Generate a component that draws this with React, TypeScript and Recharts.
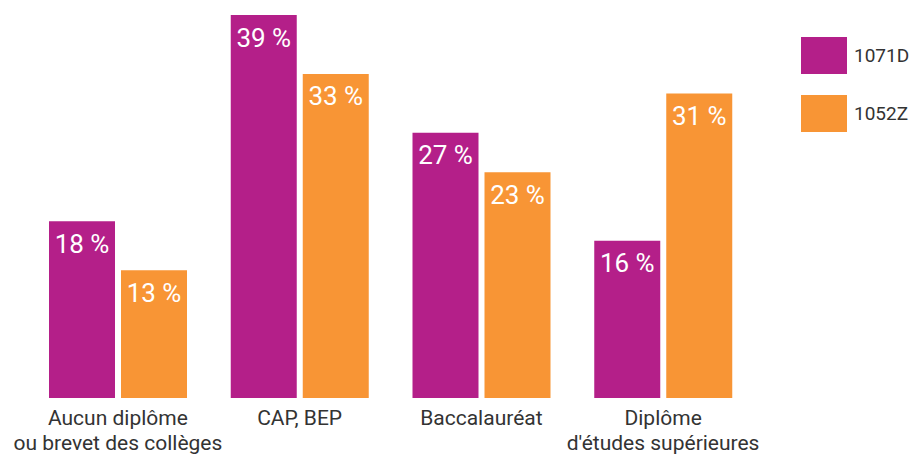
import { BarChart, Bar, XAxis, YAxis, LabelList, Legend } from "recharts";

const categories = [
  "Aucun diplôme\nou brevet des collèges",
  "CAP, BEP",
  "Baccalauréat",
  "Diplôme\nd'études supérieures",
];
const seriesNames = ["1071D", "1052Z"];
const series1071D = [18, 39, 27, 16];
const series1052Z = [13, 33, 23, 31];

const PURPLE = "#B41F89";
const ORANGE = "#F89535";

const data = categories.map((category, i) => ({
  category,
  d1071: series1071D[i],
  z1052: series1052Z[i],
}));

const BarValue = (props: any) => {
  const { x, y, width, value } = props;
  return (
    <text
      x={x + width / 2}
      y={y + 31.5}
      fill="#fff"
      fontSize={26}
      fontFamily="Roboto"
      textAnchor="middle"
    >
      {value} %
    </text>
  );
};

const CategoryTick = (props: any) => {
  const { x, y, payload } = props;
  const lines = String(payload.value).split("\n");
  return (
    <text
      x={x}
      y={y}
      fill="#333"
      fontSize={21}
      fontFamily="Roboto"
      textAnchor="middle"
    >
      {lines.map((line, i) => (
        <tspan key={i} x={x} dy={i === 0 ? 27 : 25}>
          {line}
        </tspan>
      ))}
    </text>
  );
};

const LegendBox = (props: any) => {
  // keep the series order, not the alphabetical one
  const items = [...(props.payload || [])].sort(
    (a: any, b: any) => seriesNames.indexOf(a.value) - seriesNames.indexOf(b.value)
  );
  return (
    <div style={{ display: "flex", flexDirection: "column", gap: 21 }}>
      {items.map((entry: any) => (
        <div key={entry.value} style={{ display: "flex", alignItems: "center" }}>
          <div style={{ width: 46, height: 37, background: entry.color }} />
          <span
            style={{
              marginLeft: 7,
              fontSize: 19,
              fontFamily: "Roboto",
              color: "#333",
            }}
          >
            {entry.value}
          </span>
        </div>
      ))}
    </div>
  );
};

export default function App() {
  return (
    <div style={{ position: "absolute", left: 0, top: 0, background: "#fff" }}>
      <BarChart
        width={913}
        height={454}
        data={data}
        margin={{ top: 15, right: 159, bottom: 0, left: 27 }}
        barSize={66}
        barGap={6}
      >
        <XAxis
          dataKey="category"
          height={56}
          axisLine={false}
          tickLine={false}
          tickSize={0}
          tickMargin={0}
          interval={0}
          tick={<CategoryTick />}
        />
        <YAxis hide domain={[0, 39]} />
        <Legend
          layout="horizontal"
          align="center"
          verticalAlign="middle"
          content={<LegendBox />}
          wrapperStyle={{ left: 801, top: 37, width: 112 }}
        />
        <Bar dataKey="d1071" name={seriesNames[0]} fill={PURPLE} isAnimationActive={false}>
          <LabelList dataKey="d1071" content={<BarValue />} />
        </Bar>
        <Bar dataKey="z1052" name={seriesNames[1]} fill={ORANGE} isAnimationActive={false}>
          <LabelList dataKey="z1052" content={<BarValue />} />
        </Bar>
      </BarChart>
    </div>
  );
}
